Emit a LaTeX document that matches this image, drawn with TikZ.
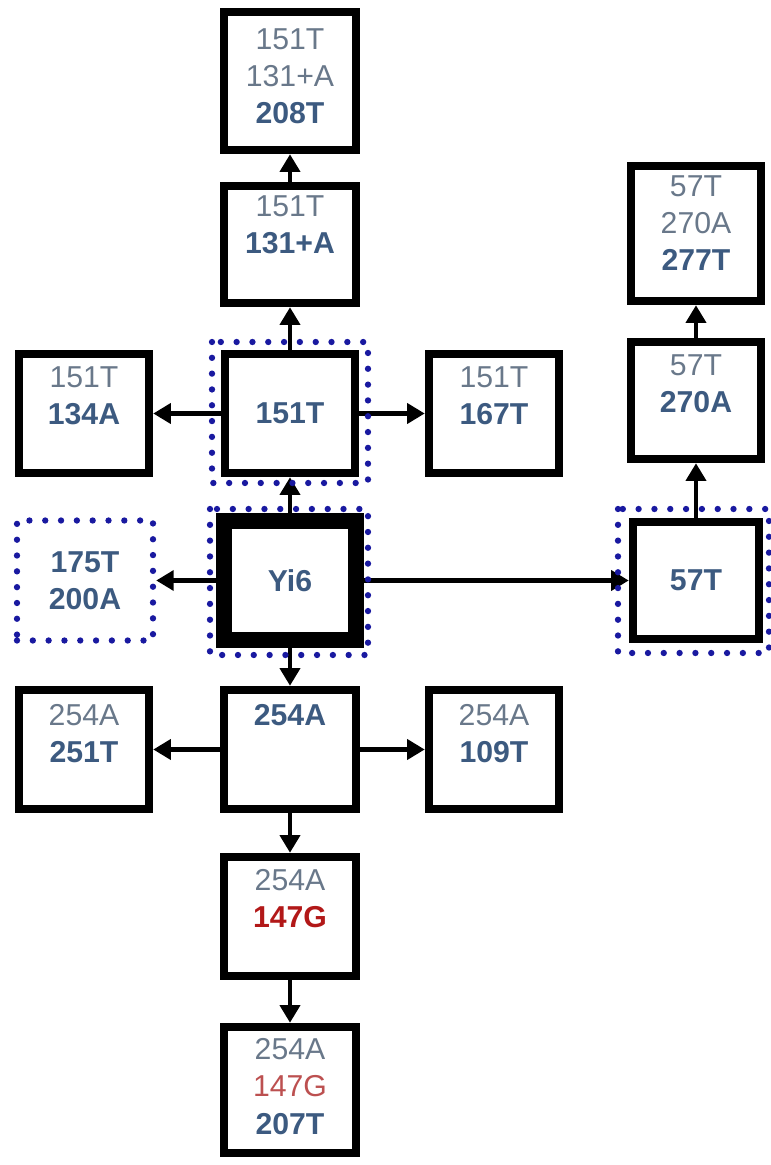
\documentclass[tikz,border=0pt]{standalone}
\usepackage{fontspec}
\setmainfont{Liberation Sans}
\usetikzlibrary{arrows.meta}
\definecolor{thingray}{RGB}{105,120,138}
\definecolor{boldblue}{RGB}{60,90,128}
\definecolor{mutred}{RGB}{178,24,24}
\definecolor{lightred}{RGB}{188,80,80}
\definecolor{dotblue}{RGB}{25,25,160}
\newcommand{\snp}[1]{{\bfseries\color{boldblue}#1}}
\newcommand{\snpred}[1]{{\bfseries\color{mutred}#1}}

\begin{document}
\begin{tikzpicture}[
  box/.style={draw, line width=2.4pt, minimum width=1.30cm, minimum height=1.19cm, inner sep=0pt,
    align=center, font=\fontsize{8.6}{10.6}\selectfont\bfseries, text=boldblue},
  lbl/.style={anchor=north, align=center, inner sep=0pt, font=\fontsize{8.6}{10.6}\selectfont, text=thingray},
  arr/.style={-{Triangle[length=5pt,width=5.6pt]}, line width=1.4pt},
  dots/.style={draw=dotblue, line width=1.8pt, line cap=round, dash pattern=on 0pt off 4.5pt}
]
\useasboundingbox (0,0) rectangle (7.71,11.65);

\node[box, minimum width=1.32cm, minimum height=1.38cm] (b208) at (2.90,10.84) {};
\node[box, minimum width=1.32cm, minimum height=1.17cm] (b131) at (2.90,9.205) {};
\node[box] (b151) at (2.90,7.515) {151T};
\node[box] (b134) at (0.84,7.515) {};
\node[box] (b167) at (4.94,7.515) {};
\node[box, minimum height=1.35cm] (b277) at (6.96,9.315) {};
\node[box, minimum height=1.17cm] (b270) at (6.96,7.645) {};
\node[box, line width=4.6pt, minimum width=1.32cm] (yi6) at (2.90,5.845) {Yi6};
\node[box, dots, minimum width=1.36cm, minimum height=1.20cm] (d175) at (0.85,5.845) {175T\\200A};
\node[box, minimum width=1.26cm, minimum height=1.17cm] (b57) at (6.96,5.845) {57T};
\node[box] (b251) at (0.84,4.155) {};
\node[box, minimum width=1.32cm] (b254) at (2.90,4.155) {};
\node[box] (b109) at (4.94,4.155) {};
\node[box, minimum width=1.32cm] (b147) at (2.90,2.485) {};
\node[box, minimum width=1.32cm, minimum height=1.26cm] (b207) at (2.90,0.75) {};

\node[lbl] (t208) at ([yshift=-0.20cm]b208.north) {151T\\131+A\\\snp{208T}};
\node[lbl] (t131) at ([yshift=-0.13cm]b131.north) {151T\\\snp{131+A}};
\node[lbl] (t134) at ([yshift=-0.16cm]b134.north) {151T\\\snp{134A}};
\node[lbl] (t167) at ([yshift=-0.16cm]b167.north) {151T\\\snp{167T}};
\node[lbl] (t277) at ([yshift=-0.13cm]b277.north) {57T\\270A\\\snp{277T}};
\node[lbl] (t270) at ([yshift=-0.16cm]b270.north) {57T\\\snp{270A}};
\node[lbl] (t251) at ([yshift=-0.18cm]b251.north) {254A\\\snp{251T}};
\node[lbl] (t254) at ([yshift=-0.18cm]b254.north) {\snp{254A}};
\node[lbl] (t109) at ([yshift=-0.18cm]b109.north) {254A\\\snp{109T}};
\node[lbl] (t147) at ([yshift=-0.16cm]b147.north) {254A\\\snpred{147G}};
\node[lbl] (t207) at ([yshift=-0.15cm]b207.north) {254A\\\textcolor{lightred}{147G}\\\snp{207T}};

\draw[arr] (b151) -- (b131);
\draw[arr] (b131) -- (b208);
\draw[arr] (b151) -- (b134);
\draw[arr] (b151) -- (b167);
\draw[arr] (yi6) -- (b151);
\draw[arr] (yi6) -- (d175);
\draw[arr] (yi6) -- (b57);
\draw[arr] (b57) -- (b270);
\draw[arr] (b270) -- (b277);
\draw[arr] (yi6) -- (b254);
\draw[arr] (b254) -- (b251);
\draw[arr] (b254) -- (b109);
\draw[arr] (b254) -- (b147);
\draw[arr] (b147) -- (b207);

\draw[dots] (2.12,8.23) rectangle (3.68,6.82);
\draw[dots] (2.10,6.56) rectangle (3.68,5.10);
\draw[dots] (6.18,6.56) rectangle (7.69,5.12);
\end{tikzpicture}
\end{document}
